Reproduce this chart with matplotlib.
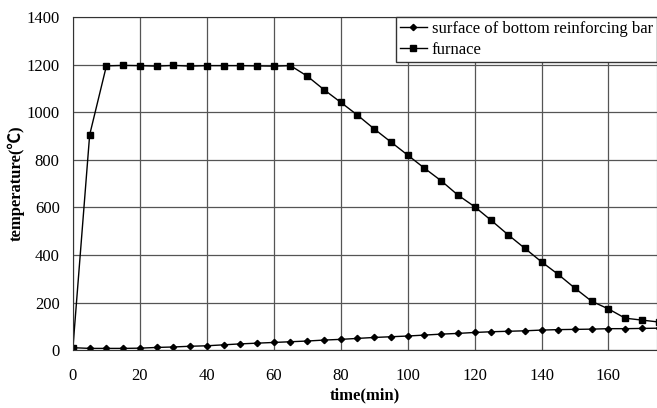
import matplotlib.pyplot as plt

time_min = list(range(0, 180, 5))
furnace = [10, 905, 1195, 1197, 1196, 1194, 1197, 1194, 1196, 1196, 1196, 1195,
           1194, 1196, 1152, 1095, 1042, 988, 930, 875, 820, 765, 712, 652,
           603, 545, 485, 428, 371, 318, 260, 205, 173, 134, 126, 118]
bar_surface = [10, 7, 7, 7, 8, 11, 13, 16, 18, 22, 26, 29, 32, 35, 38, 42, 45,
               49, 53, 56, 59, 63, 67, 70, 74, 77, 79, 81, 84, 86, 87, 88, 90,
               90, 91, 92]
x_ticks = list(range(0, 180, 20))
y_ticks = list(range(0, 1600, 200))

plt.rcParams['font.family'] = ['Liberation Serif', 'Noto Sans CJK SC']

fig = plt.figure(figsize=(6.57, 4.08), dpi=100)
ax = fig.add_axes([0.111, 0.142, 0.889, 0.816])

ax.plot(time_min, bar_surface, color='black', lw=1, marker='D', markersize=3.2,
        label='surface of bottom reinforcing bar')
ax.plot(time_min, furnace, color='black', lw=1, marker='s', markersize=5,
        label='furnace')

ax.set_xlim(0, 174.5)
ax.set_ylim(0, 1400)
ax.set_xticks(x_ticks)
ax.set_yticks(y_ticks)
ax.tick_params(labelsize=12, length=0)
ax.tick_params(axis='y', pad=9.5)
ax.tick_params(axis='x', pad=13)
ax.grid(True, color='#555555', lw=0.9)
for s in ax.spines.values():
    s.set_color('#333333')

ax.set_xlabel('time(min)', fontsize=12, fontweight='bold', labelpad=2)
ax.set_ylabel('temperature(℃)', fontsize=12, fontweight='bold', labelpad=1)

leg = ax.legend(loc='upper right', fontsize=12, fancybox=False, framealpha=1,
                edgecolor='#333333', borderaxespad=0, handlelength=1.6,
                handletextpad=0.3, borderpad=0.25, labelspacing=0.3)
leg.get_frame().set_linewidth(1)

fig.savefig('out.png', dpi=100)
